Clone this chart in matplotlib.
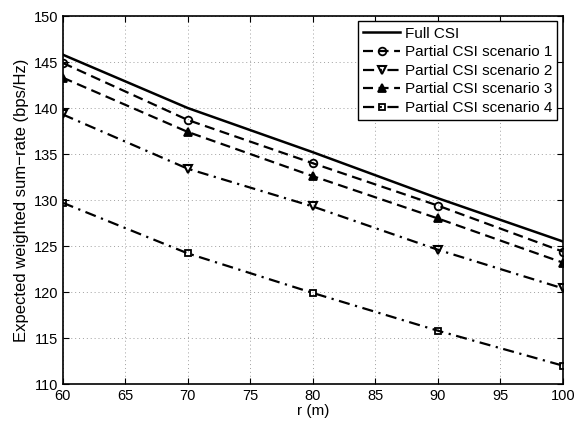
import matplotlib
matplotlib.use('Agg')
import matplotlib.pyplot as plt

r = [60, 70, 80, 90, 100]
full_csi = [145.8, 140.0, 135.2, 130.2, 125.5]
scenario_1 = [144.9, 138.7, 134.0, 129.4, 124.4]
scenario_2 = [139.3, 133.4, 129.3, 124.6, 120.4]
scenario_3 = [143.3, 137.4, 132.6, 128.0, 123.2]
scenario_4 = [129.7, 124.2, 119.9, 115.8, 112.0]

plt.rcParams['font.family'] = ['Liberation Sans', 'DejaVu Sans']
plt.rcParams['font.size'] = 10.5

fig = plt.figure(figsize=(5.76, 4.22), dpi=100)
ax = fig.add_axes([0.109, 0.090, 0.868, 0.872])

dash = (0, (4.5, 2.5))
dashdot = (0, (5, 2.5, 1, 2.5))
ax.plot(r, full_csi, color='black', lw=1.8, label='Full CSI')
ax.plot(r, scenario_1, color='black', lw=1.6, ls=dash, marker='o',
        ms=5.5, mfc='none', mew=1.3, label='Partial CSI scenario 1')
ax.plot(r, scenario_2, color='black', lw=1.6, ls=dashdot, marker='v',
        ms=5.5, mfc='none', mew=1.5, label='Partial CSI scenario 2')
ax.plot(r, scenario_3, color='black', lw=1.6, ls=dash, marker='^',
        ms=6, mfc='black', mew=1.3, label='Partial CSI scenario 3')
ax.plot(r, scenario_4, color='black', lw=1.6, ls=dashdot, marker='s',
        ms=5, mfc='none', mew=1.3, label='Partial CSI scenario 4')

ax.set_xlim(60, 100)
ax.set_ylim(110, 150)
ax.set_xticks(range(60, 101, 5))
ax.set_yticks(range(110, 151, 5))
ax.grid(True, ls=(0, (1, 3)), color='#a0a0a0', lw=0.7)
ax.tick_params(direction='in', top=True, right=True, length=4)
for s in ax.spines.values():
    s.set_linewidth(1.2)

ax.set_xlabel('r (m)', labelpad=1, fontsize=11)
ax.set_ylabel('Expected weighted sum\u2212rate (bps/Hz)', fontsize=12, labelpad=3)

leg = ax.legend(loc='upper right', fancybox=False, framealpha=1, edgecolor='black',
                borderaxespad=0.35, handlelength=2.4, labelspacing=0.3,
                borderpad=0.35, handletextpad=0.3, fontsize=11)
leg.get_frame().set_linewidth(1.0)

fig.savefig('out.png', dpi=100)
